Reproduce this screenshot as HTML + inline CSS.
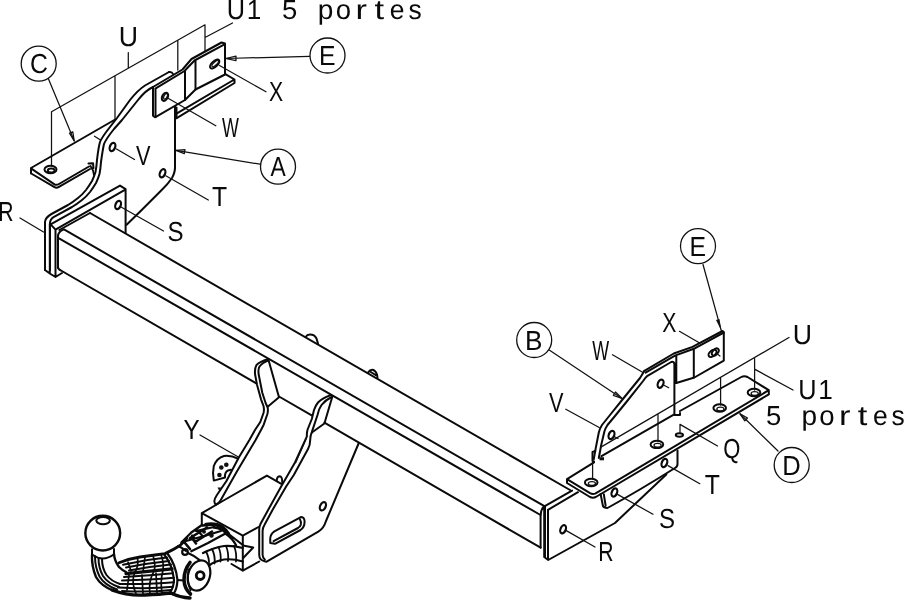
<!DOCTYPE html>
<html><head><meta charset="utf-8"><title>Attelage</title>
<style>
html,body{margin:0;padding:0;background:#fff;}
svg{display:block;filter:grayscale(1)}
.m{fill:none;stroke:#0a0a0a;stroke-width:2;stroke-linecap:round;stroke-linejoin:round}
.w{fill:#fff;stroke:#0a0a0a;stroke-width:1.9;stroke-linecap:round;stroke-linejoin:round}
.t{fill:none;stroke:#111;stroke-width:1.25;stroke-linecap:round;stroke-linejoin:round}
.c{fill:#fff;stroke:#111;stroke-width:1.3}
.k{fill:#111;stroke:none}
text{font-family:"Liberation Sans","DejaVu Sans",sans-serif;font-size:27.5px;fill:#0a0a0a;text-anchor:middle;text-rendering:geometricPrecision}
</style></head><body>
<svg width="904" height="600" viewBox="0 0 904 600">
<rect width="904" height="600" fill="#fff"/>
<!--BEAM-->
<g id="beam">
<path class="m" d="M90,213 L570,490"/>
<path class="m" d="M58,268 V236 Q58.2,231.6 64,229.4 L544.4,506.2"/>
<path class="m" d="M59,238.3 L540.5,515"/>
<path class="m" d="M58,267 Q58.2,269.5 61,270.5 L256.3,383.4 M279,396.5 L311.7,415.4 M324.4,422.7 L540.6,547.7"/>
<path class="m" d="M305.6,336.9 Q307,334.6 310,334.6 Q314.5,334.6 316.5,338.5 L318,343.6 M368,372.5 Q370,369.6 372.5,369.8 Q375.5,370.4 377,374.5 L377.5,378 M370,371.5 L375.5,375"/>
<path class="m" d="M59.4,230 L90,213"/>
</g>
<g id="flangeL">
<path class="m" d="M50.6,224.4 L120,185.6 L125.6,189.2 V233 M55.5,229.6 L125.3,189.6 M50.6,224.4 L55.5,229.6 V277 L62,273 M49.8,273.5 L55.5,277 M45,270 L49.8,273.5 V224"/>
<ellipse class="m" style="stroke-width:2.2" cx="118.1" cy="205" rx="2.6" ry="4.3" transform="rotate(22 118.1 205)"/>
</g>
<!--TOPLEFT-->
<g id="dims">
<path class="t" d="M51.5,111.8 L205,24.8 M51.5,111.8 V165.5 M115,76 V118.5 M128.3,52.5 V68 M177.8,40.5 V70 M205,24.8 V51 M205,37.5 L232.5,23"/>
</g>
<g id="plateC">
<path class="m" d="M31,168 L116,119 M31,168 V173.5 M31,168.3 L54.5,184.3 Q56.5,185.5 59,184 L89,166.5 M31.2,173.5 L54.5,187.2 Q56.5,188.4 58.5,187.2 L90,169"/>
<ellipse class="m" cx="50.5" cy="169.5" rx="6" ry="3.8"/>
<ellipse class="m" cx="51.2" cy="170.4" rx="3.4" ry="2"/>
<path class="m" d="M88.5,163.5 L93,163.2 L93.5,168 M90.5,166 Q93.5,170 94,175"/>
<path class="t" d="M94.5,136.2 L100.5,140"/>
</g>
<g id="plateE">
<path class="m" d="M153,87 L182.5,69.5 L191.5,59 L221.5,42.5 L225,43.5 V74.5 L195.5,89.5 L185,100 L155,117.3 L153,115.8 Z"/>
<path class="m" d="M155.3,88.6 L184.5,71 L194.5,60.5 L224,44.6 M155.5,89 V117 M185,71 V100 M195.5,60.8 V89.5"/>
<path class="m" d="M169,72 Q172,71.5 173,74"/>
<ellipse class="m" style="stroke-width:2.2" cx="165" cy="96.8" rx="2.7" ry="4.3" transform="rotate(28 165 96.8)"/>
<ellipse class="t" cx="165.6" cy="96.4" rx="1.6" ry="3" transform="rotate(28 165.6 96.4)"/>
<ellipse class="m" cx="214.7" cy="64" rx="2.8" ry="5.8" transform="rotate(48 214.7 64)"/>
<ellipse class="t" cx="215.2" cy="63.6" rx="1.5" ry="4.2" transform="rotate(48 215.2 63.6)"/>
<path class="m" d="M225,73.8 L234.5,79.5 V83 L176.3,118.3 M233.5,80 L176.5,113.6"/>
</g>
<g id="brA">
<path class="m" d="M169,72 L145,85.5 Q138,90 130,100 L117,118 L110,127 Q102,137 100,142 Q98.5,147 97,160 Q96.5,167 95.5,172 Q94,177 92,181 Q89,186 86,190 Q82,195 78,198 Q73,202 68,205 L51.5,214 Q45.2,217.5 45,222 V270"/>
<path class="m" d="M153,87 Q146,90 138,100 L122,120 L114,129 Q106,139 104,144 Q102.8,149 101,162 Q100.5,169 99.5,174 Q98,179 96,183 Q93,188 90,192 Q86,197 82,200 Q77,204 72,207 L54,216.8 Q50.2,219 50,223 V270"/>
<path class="m" d="M175,106.5 V165 Q175.5,172 172,178 Q168,184 161.7,190 L141.7,210 L126.6,224.8 M176.5,107.5 V118"/>
<ellipse class="m" style="stroke-width:2.2" cx="112.5" cy="147" rx="2.6" ry="4.3" transform="rotate(22 112.5 147)"/>
<ellipse class="m" style="stroke-width:2.2" cx="162.5" cy="173.3" rx="2.6" ry="4.3" transform="rotate(22 162.5 173.3)"/>
</g>
<g id="leadersTL">
<path class="t" d="M116.5,149 L134.5,159.5 M165.8,175.8 L208.3,200 M168.5,98.5 L215.8,125.8 M219.5,65.5 L266,91.8 M121,207 L163.5,231"/>
<path class="t" d="M46,73 L74.2,140.8 M225.5,58.5 L309.5,56.3 M176,150.3 L260,164.2 M43.5,232 L20,218"/>
<path class="t" d="M74.2,140.8 L69.5,133.2 L72.8,131.8 Z M225.5,58.5 L236,56.2 V60.6 Z M176,150.3 L185,149.7 L184.3,153.6 Z" fill="#fff"/>
</g>
<!--HITCH-->
<g id="hitchplates">
<path class="m" d="M267.7,359.3 Q260,361.5 256.5,365 Q254.6,368 255,374 L257,384.7 L261,399.3 L263.5,406 Q264.4,409.5 263.5,413 L260.3,422 L255,430 L249.4,440 L238.8,457.5 L226.3,481.3 L216.9,495 Q214,499.5 214.4,501.5 Q214.6,503.6 215.8,504.6"/>
<path class="m" d="M268,360.6 Q262,363 259.5,366.5 Q258,369 258.6,374 L262.3,392.7 L265.7,403.3 L267.6,407.3 Q268.3,410.5 267.4,414 L263.7,424.7 L261,430 L255.6,440 L236.3,472.5 L220.5,500.5 Q219,503.3 215.8,504.6"/>
<path class="m" d="M268.3,359.3 L279,397.3 L267.7,406.7"/>
<path class="m" d="M330.3,395.3 Q322,398.5 318,402.5 Q315.5,405.5 314,410 L311.8,419 L307.6,429.5 Q306.6,433 306.9,436.3 L295,462.5 L281.3,486.3 L268.8,508.8 L260.6,523.8 Q259.2,526.5 259.2,529.5 V555 Q259.5,560 264,561 Q265.6,561.6 266.7,561.7 L318.3,531.7 Q324,528 325.8,521.5 L358.8,443"/>
<path class="m" d="M331.6,397 Q325.5,400 321.5,405 Q319,408.5 317.5,415 L311.9,431.9 Q310.2,436 310.2,440 Q310.2,445 308,449 L293.8,475 L286.3,486.3 L272.5,510 L264.4,525 Q262.6,528 262.6,531 V555 Q262.8,558 264.8,559.5"/>
<path class="m" d="M332.3,396.7 L324.4,423.5 L311.9,432.5"/>
<path class="t" d="M306.3,438.5 L295.6,462.8"/>
<ellipse class="m" style="stroke-width:2.2" cx="322.9" cy="506.3" rx="2.7" ry="4.4" transform="rotate(25 322.9 506.3)"/>
<path class="m" d="M301.3,516.9 L274.4,531.3 Q270.2,534 270.2,539 L270.3,543 L275,543.8 L300.5,530 Q304.6,527.5 304.6,521.5 Q304.4,517 301.3,516.9 Z"/>
<path class="m" d="M300,519.4 Q301.6,522 300.8,524.8 Q300,526.8 298,528 L273.6,541.2"/>
</g>
<g id="box">
<path class="m" d="M221,502 L201.8,513.2 L242.8,535.7 L258.5,527 M201.8,513.2 V525 M221,502 L266.9,475.6 L281.3,483.8 M242.8,535.7 V570.7 L259.2,561.5 M242.8,570.7 L231.5,564"/>
<path class="m" d="M243,545.6 L253.2,547.5 L243.2,558"/>
<path class="m" d="M276.8,480.8 Q276.8,476.4 279.6,476.2 Q282.4,476.4 282.2,482.4"/>
</g>
<g id="socket">
<path class="m" d="M238,458.6 Q231,455.2 224,456 Q216.8,458 213.8,466 Q212.2,473 213.8,480.6 L225,477.5 Q224.6,472 228,470.5 L231,469.8"/>
<circle class="k" cx="221.3" cy="467.5" r="2.3"/><circle class="k" cx="226.3" cy="464.8" r="2.3"/><circle class="k" cx="219.4" cy="475" r="2.3"/>
<path class="k" d="M217.5,487.6 L221,487.4 L219.6,491.4 Z"/>
</g>
<g id="ball">
<circle cx="102.75" cy="533.1" r="17.4" fill="none" stroke="#0a0a0a" stroke-width="2.4"/>
<ellipse cx="103.1" cy="520.6" rx="6.8" ry="3.6" fill="none" stroke="#0a0a0a" stroke-width="2"/>
<path class="m" style="stroke-width:2" d="M92,549.2 V554.5 Q103,562.5 114,554.2 V549"/>
</g>
<g id="neck">
<path class="m" style="stroke-width:2.4" d="M92,555 Q91.5,566 96,577 Q101,586 114,591"/>
<path class="m" style="stroke-width:3.4" d="M112,590 Q128,596 145,595 Q160,594.3 171,593 Q180,597.5 190,598"/>
<path class="m" d="M95,556.5 Q95,567 99.5,576.5 Q104.5,585 117,589.5 M98.5,558 Q98.5,568 103,576 Q108,583.5 119,587 M102,559 Q102,568 106.5,575 Q111,581 120,584"/>
<path class="m" style="stroke-width:2.4" d="M114,554 Q114.5,561 119,567 Q122,570 126,572"/>
<path class="m" style="stroke-width:2.8" d="M119,562.7 Q130,558.5 140,557 L155,555 L165,553.6 Q173,550 180,545.5 Q184,542 187,538"/>
<path class="m" style="stroke-width:2" d="M123,564.8 Q145,559.5 167,557.5 M126,567.6 Q147,563.2 169,561 M129,570.5 Q150,566.6 171,564.6 M124,577 Q150,575.5 173,573.2 M122,580.5 Q150,580 174,577.8 M120,584 Q150,584.6 174,582.3 M118,587.5 Q150,589.2 173,586.8 M122,591 Q150,592.5 171,590"/>
<path class="m" style="stroke-width:3.3" d="M126,573.6 Q150,571 172,568.8"/>
<path class="m" style="stroke-width:1.7" d="M137.5,558 Q139,566 134.5,573 Q131,583 136,593.5 M153,555.5 Q156,565 154,571 Q148,582 150,594 M161,554.5 Q164,562 163,570 Q160,582 162,593 M145,557 L143,572 M128,562 L131,571 M142,575 L143,594 M156,573 L157,593 M129,575 L127,590"/>
<path class="m" style="stroke-width:2.2" d="M164.5,555 Q172.5,565 174,580 Q173.5,588 170,592.5 M167.5,553.5 Q176,565 177.5,580 Q177,590 173,594.5"/>
<path class="m" style="stroke-width:2" d="M178,546 Q183,548 186,551 M177.5,580 L184,580.5"/>
<ellipse class="m" style="stroke-width:2.2" cx="199" cy="575.5" rx="10.8" ry="15.5" transform="rotate(18 199 575.5)"/>
<path class="m" style="stroke-width:3.6" d="M190,562.5 Q184,570 184,580 Q184.5,589 190.5,594"/>
<path class="m" style="stroke-width:1.8" d="M188.5,569.5 Q186.6,580 190.5,590.5"/>
<circle cx="200.2" cy="575.6" r="3.9" fill="none" stroke="#0a0a0a" stroke-width="2.8"/>
<path class="m" style="stroke-width:2.2" d="M201.9,525 L191.3,532.5 L181.3,542.5 M225,533.8 L208,543 L191.3,551.3 M196,531 L214,527 M186,541 L206,535.5 L221,531 M192,535.5 L197,541 M198,531 L203,536.5"/>
<circle class="m" style="stroke-width:2.2" cx="185" cy="552" r="2.8"/>
<path class="m" style="stroke-width:3.6" d="M206,524.5 Q216,523.2 222,527 Q226,530 228.5,534"/>
<circle class="k" cx="204" cy="531.8" r="2"/><circle class="k" cx="211.5" cy="535.5" r="2.2"/>
<path class="m" style="stroke-width:2.6" d="M202.5,525.5 L214,524.5 M214,527.5 Q221,528 226,533 M190,538 L207,527.5 M195,542 L212,531.5 M185,543 L190,549 M192,538 L196,543.5"/>
<path class="m" style="stroke-width:2.2" d="M188,553 Q195,556 199.5,560 M226,534 Q232,538 236,545 M203,553 Q214,547.5 224,546 Q234,545.5 242.8,548 M209,565.5 Q215,561 224,559.5 Q233,558.5 242.8,561.5 M228,533.5 L242.8,545"/>
<path class="m" style="stroke-width:1.8" d="M206,551.5 Q209.5,558 209,565 M212,549 Q215.5,556 214.5,563.5 M218.5,547 Q221.5,554 220.5,561.5 M226,546 Q229,553 228,561 M234,546 Q237,553 236,561.5"/>
</g>
<!--RIGHT-->
<g id="flangeR">
<path class="m" d="M544.4,506.3 L572,490.6 M548,509.8 L578,492.2 M544.2,506.3 V557 L548.2,560 L615,523 L666.3,474.4 M545,507 V557.5 M548,509.8 V559.8 M540.6,515 V547.5 M544.4,506.2 Q541,508.5 540.7,515"/>
<ellipse class="m" style="stroke-width:2.2" cx="563.1" cy="529.3" rx="2.6" ry="4.3" transform="rotate(22 563.1 529.3)"/>
</g>
<g id="plateD">
<path class="m" d="M567,479.2 L594,462.3 M601.5,456.2 L673.8,414.6 M680,411 L741.3,377 Q744.3,375.3 747.5,377 L768.8,390.2 V394.4 L595.8,497 Q592.8,498.4 590,497 L567,483 V479.2 L590,493.2 Q592.6,494.6 595.2,493.6 L768.8,390.2"/>
<g class="m"><ellipse cx="591.2" cy="482.5" rx="6.3" ry="3.7"/><ellipse cx="656.9" cy="444.4" rx="6.3" ry="3.7"/><ellipse cx="719.7" cy="408" rx="6.3" ry="3.7"/><ellipse cx="754" cy="392.5" rx="6.3" ry="3.7"/></g>
<g class="t"><ellipse cx="591.9" cy="483.4" rx="3.6" ry="1.9"/><ellipse cx="657.6" cy="445.3" rx="3.6" ry="1.9"/><ellipse cx="720.4" cy="408.9" rx="3.6" ry="1.9"/><ellipse cx="754.7" cy="393.4" rx="3.6" ry="1.9"/></g>
<ellipse class="m" cx="679.4" cy="435" rx="3.6" ry="1.8"/>
<path class="m" d="M600.6,494 L603,506.2 Q603.6,507.8 607.5,508 Q640,490 675,468 Q677.6,466.5 677.5,464 V450.6 M603.8,494.2 L605.6,505.5"/>
<ellipse class="m" style="stroke-width:2.2" cx="614.4" cy="492.5" rx="2.6" ry="4.3" transform="rotate(22 614.4 492.5)"/>
<ellipse class="m" style="stroke-width:2.2" cx="664.4" cy="463" rx="2.6" ry="4.3" transform="rotate(22 664.4 463)"/>
</g>
<g id="brB">
<path class="m" d="M593.8,459 L595.6,448.8 L598.8,432.5 Q600,428 602,425 L610,415 L622.5,399.5 L640,378 Q642,375 644.4,370.8"/>
<path class="m" d="M598.8,458 L601.2,445 L604.4,431.5 Q605.5,428 607.5,425 L615,416 L628,400 L643.5,380.5 Q645,378 647.5,375.8 L671.2,362 Q674.2,361 674.4,364.5 V415 H680 V413 M676,363.5 V383"/>
<path class="m" d="M592.5,452 L595.3,451 M592.5,452 V461 L594,461.5"/>
<path class="k" d="M599.5,457.2 H604 V460.3 H599.5 Z"/>
<ellipse class="m" style="stroke-width:2.2" cx="611.5" cy="435" rx="2.7" ry="4.3" transform="rotate(22 611.5 435)"/>
<ellipse class="m" style="stroke-width:2.2" cx="660.6" cy="383.7" rx="2.7" ry="4.3" transform="rotate(22 660.6 383.7)"/>
<path class="t" d="M663.5,385 L668.7,387.7 M614,436.5 L618,438.5"/>
</g>
<g id="plateE2">
<path class="m" d="M644.4,370.8 L673.8,353.5 L692.5,346.9 L722.5,331 L723.8,332.3 V360.6 L694.4,377.5 L676.3,383"/>
<path class="m" d="M645.6,372.6 L675,355.6 L693.8,348.8 L723.8,332.5 M693.8,348.8 V377.5 M676.3,356 V383"/>
<ellipse class="m" cx="712.5" cy="353.3" rx="2.8" ry="4.6" transform="rotate(50 712.5 353.3)"/>
<ellipse class="m" cx="715.3" cy="352" rx="2.6" ry="4.2" transform="rotate(40 715.3 352)"/>
<path class="t" d="M716.5,353.5 L720,356"/>
</g>
<g id="dimsR">
<path class="t" d="M601.3,446.9 L789,337.5 M592.6,461 V479 M658,414.4 V441.5 M720.6,378 V405 M754.6,358.8 V390 M755,369.4 L793,390 M680,424.4 V433.5 M680,424.4 L717.5,446"/>
<path class="t" d="M549.2,350 L622,398.5 M612.5,354.7 L643,372.5 M565.8,409.2 L599.2,427.5 M679.4,331.3 L698.8,342.5 M703,264.5 L721.3,330.6 M778,451 L740,413.8 M617.5,494.4 L653,514.3 M668,465.6 L699.8,483.7 M566.3,530.6 L595,547"/>
<path class="t" d="M622,398.5 L613.3,395.3 L615.5,392 Z M740,413.8 L747.5,418 L744.8,420.8 Z" fill="#fff"/>
<path class="t" d="M200,435 L238.8,457.3"/>
<path class="k" d="M721.3,330.6 L716,320 L719.5,319 Z"/>
</g>
<!--LABELS-->
<g id="labels">
<circle class="c" cx="38.7" cy="63.7" r="17.5"/>
<circle class="c" cx="327.5" cy="55.5" r="17.5"/>
<circle class="c" cx="698" cy="246.2" r="17.5"/>
<circle class="c" cx="791.7" cy="465" r="17.5"/>
<circle class="c" cx="278" cy="166.7" r="17.5"/>
<circle class="c" cx="534.2" cy="340" r="17.5"/>
<text transform="translate(38.9,73.3) scale(0.900,1)">C</text>
<text transform="translate(327.3,65.0) scale(0.900,1)">E</text>
<text transform="translate(697.8,255.7) scale(0.900,1)">E</text>
<text transform="translate(791.5,474.5) scale(0.930,1)">D</text>
<text transform="translate(278.0,176.2) scale(0.830,1)">A</text>
<text transform="translate(533.8,350.0) scale(0.950,1)">B</text>
<text transform="translate(128.5,46.0) scale(0.970,1)">U</text>
<text transform="translate(276.0,101.0) scale(0.770,1)">X</text>
<text transform="translate(230.4,136.7) scale(0.650,1)">W</text>
<text transform="translate(143.3,165.0) scale(0.790,1)">V</text>
<text transform="translate(219.5,205.8) scale(0.900,1)">T</text>
<text transform="translate(175.6,241.0) scale(0.875,1)">S</text>
<text transform="translate(6.0,221.3) scale(0.770,1)">R</text>
<text transform="translate(191.5,439.0) scale(0.880,1)">Y</text>
<text transform="translate(600.8,360.0) scale(0.650,1)">W</text>
<text transform="translate(556.3,411.7) scale(0.790,1)">V</text>
<text transform="translate(669.4,331.5) scale(0.770,1)">X</text>
<text transform="translate(802.3,344.0) scale(0.970,1)">U</text>
<text transform="translate(731.7,457.5) scale(0.800,1)">Q</text>
<text transform="translate(712.4,494.0) scale(0.900,1)">T</text>
<text transform="translate(667.0,528.0) scale(0.875,1)">S</text>
<text transform="translate(606.0,560.5) scale(0.770,1)">R</text>
<text transform="translate(236.0,19.0) scale(0.920,1)">U</text>
<text transform="translate(253.9,19.0) scale(0.950,1)">1</text>
<text transform="translate(289.7,19.0) scale(1.000,1)">5</text>
<text transform="translate(325.5,19.0) scale(1.020,1)">p</text>
<text transform="translate(343.4,19.0) scale(1.000,1)">o</text>
<text transform="translate(361.3,19.0) scale(1.250,1)">r</text>
<text transform="translate(379.2,19.0) scale(1.250,1)">t</text>
<text transform="translate(397.1,19.0) scale(0.960,1)">e</text>
<text transform="translate(415.0,19.0) scale(0.960,1)">s</text>
<text transform="translate(807.4,399.2) scale(0.920,1)">U</text>
<text transform="translate(825.4,399.2) scale(0.950,1)">1</text>
<text transform="translate(773.6,425.0) scale(1.000,1)">5</text>
<text transform="translate(809.2,425.0) scale(1.020,1)">p</text>
<text transform="translate(827.0,425.0) scale(1.000,1)">o</text>
<text transform="translate(844.8,425.0) scale(1.250,1)">r</text>
<text transform="translate(862.6,425.0) scale(1.250,1)">t</text>
<text transform="translate(880.4,425.0) scale(0.960,1)">e</text>
<text transform="translate(898.2,425.0) scale(0.960,1)">s</text>
</g>
</svg>
</body></html>
